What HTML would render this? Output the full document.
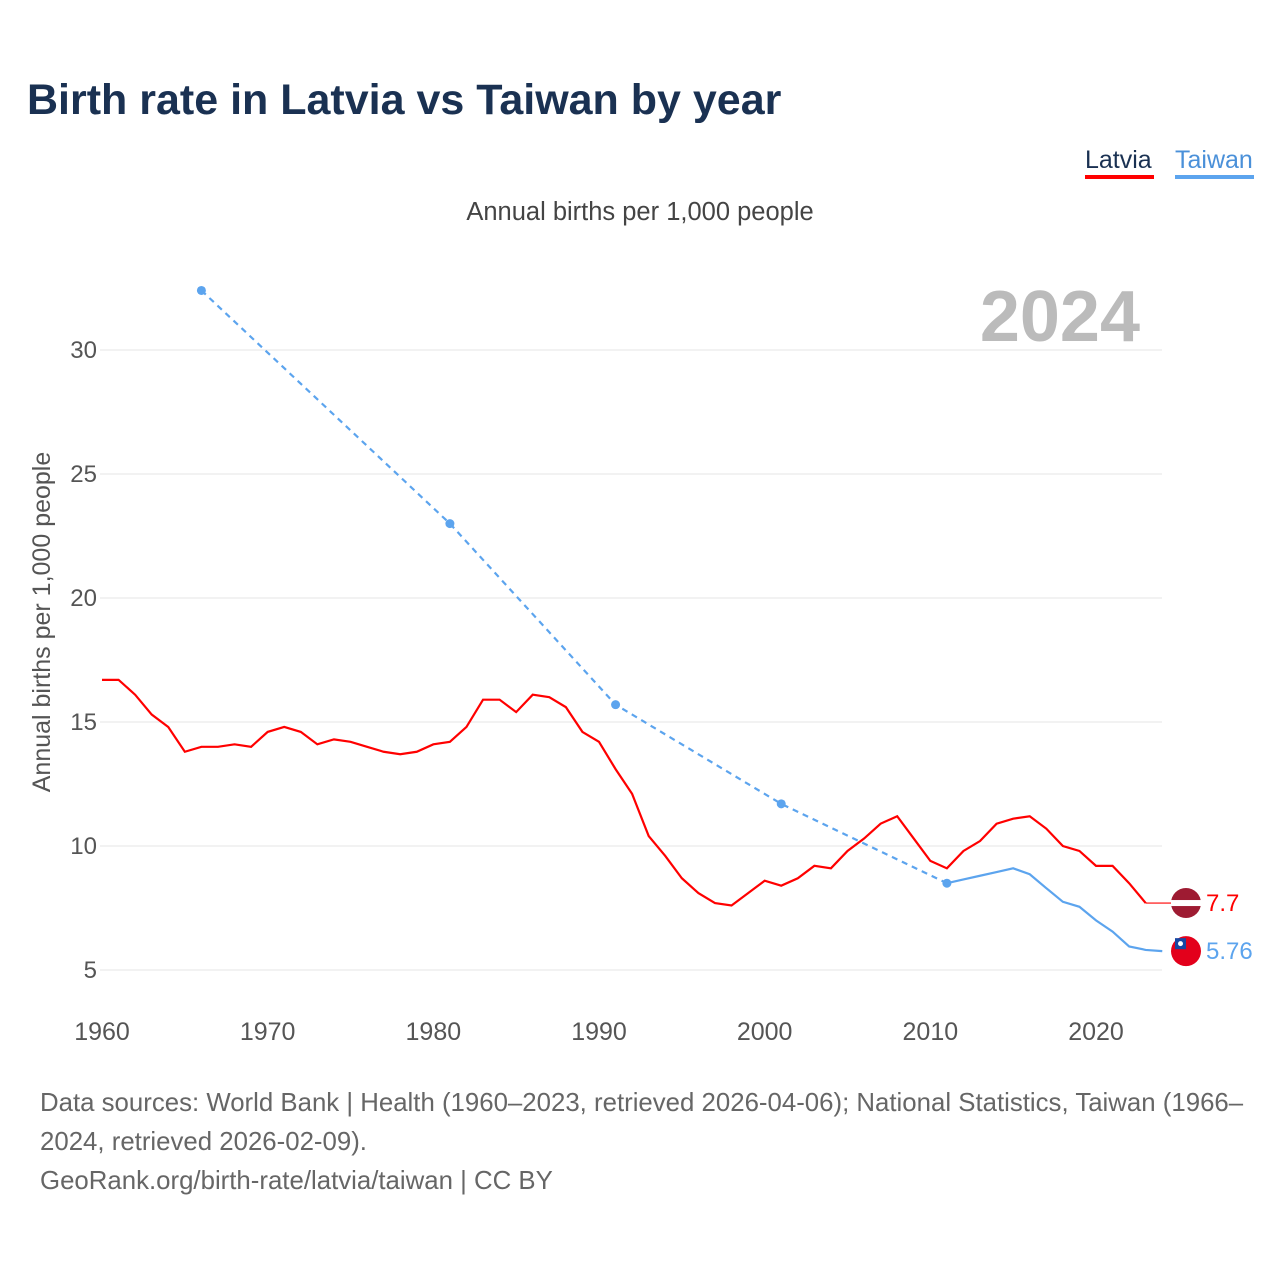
<!DOCTYPE html>
<html><head><meta charset="utf-8"><style>
body{margin:0;background:#fff;font-family:"Liberation Sans",sans-serif;}
svg text{font-family:"Liberation Sans",sans-serif;}
</style></head><body>
<svg id="chart" width="1280" height="1280" xmlns="http://www.w3.org/2000/svg">
<rect width="1280" height="1280" fill="#fff"/>
<text x="27" y="114" font-size="43" font-weight="bold" fill="#1a3152">Birth rate in Latvia vs Taiwan by year</text>
<g>
<text x="1085" y="168" font-size="25" fill="#1a3152">Latvia</text>
<rect x="1085" y="175" width="69" height="4" fill="#ff0000"/>
<text x="1175" y="168" font-size="25" fill="#4a90d9">Taiwan</text>
<rect x="1175" y="175" width="79" height="4" fill="#5ca4ee"/>
</g>
<text x="640" y="220" font-size="25.5" fill="#444" text-anchor="middle">Annual births per 1,000 people</text>
<text x="1140" y="341" font-size="72" font-weight="bold" fill="#bbb" text-anchor="end">2024</text>
<text transform="translate(50,622) rotate(-90)" font-size="25" fill="#555" text-anchor="middle">Annual births per 1,000 people</text>
<g id="grid"></g><g id="marks"></g>
<text x="40" y="1111" font-size="25.8" fill="#666">Data sources: World Bank | Health (1960–2023, retrieved 2026-04-06); National Statistics, Taiwan (1966–</text>
<text x="40" y="1150" font-size="25.8" fill="#666">2024, retrieved 2026-02-09).</text>
<text x="40" y="1189" font-size="25.8" fill="#666">GeoRank.org/birth-rate/latvia/taiwan | CC BY</text>
</svg>
<script>
const yTicks=[5,10,15,20,25,30];
const xTicks=[1960,1970,1980,1990,2000,2010,2020];
const latviaYears=[];for(let y=1960;y<=2023;y++)latviaYears.push(y);
const latviaValues=[16.7,16.7,16.1,15.3,14.8,13.8,14.0,14.0,14.1,14.0,14.6,14.8,14.6,14.1,14.3,14.2,14.0,13.8,13.7,13.8,14.1,14.2,14.8,15.9,15.9,15.4,16.1,16.0,15.6,14.6,14.2,13.1,12.1,10.4,9.6,8.7,8.1,7.7,7.6,8.1,8.6,8.4,8.7,9.2,9.1,9.8,10.3,10.9,11.2,10.3,9.4,9.1,9.8,10.2,10.9,11.1,11.2,10.7,10.0,9.8,9.2,9.2,8.5,7.7];
const taiwanSparseYears=[1966,1981,1991,2001,2011];
const taiwanSparseValues=[32.4,23.0,15.7,11.7,8.5];
const taiwanYears=[2011,2012,2013,2014,2015,2016,2017,2018,2019,2020,2021,2022,2023,2024];
const taiwanValues=[8.5,8.65,8.8,8.95,9.1,8.86,8.3,7.75,7.55,7.0,6.55,5.95,5.81,5.76];
const latviaLast=7.7, taiwanLast=5.76;
const X=y=>102+(y-1960)*994/60;
const Y=v=>970-(v-5)*24.8;
const NS="http://www.w3.org/2000/svg";
const grid=document.getElementById('grid'),marks=document.getElementById('marks');
function mk(t,a,p){const e=document.createElementNS(NS,t);for(const k in a)e.setAttribute(k,a[k]);p.appendChild(e);return e;}
yTicks.forEach(v=>{
 const l=mk('line',{x1:100,x2:1162,y1:Y(v),y2:Y(v),stroke:'#e6e6e6','stroke-width':1},grid);
 
 
 const t=mk('text',{x:97,y:Y(v)+8,'font-size':24,fill:'#555','text-anchor':'end'},grid);t.textContent=v;
 
 
});
xTicks.forEach(v=>{
 const t=mk('text',{x:X(v),y:1040,'font-size':25,fill:'#555','text-anchor':'middle'},grid);t.textContent=v;
 
 
});
const pts=(xs,vs)=>xs.map((y,i)=>X(y)+','+Y(vs[i])).join(' ');
let p=mk('polyline',{points:pts(taiwanSparseYears,taiwanSparseValues),fill:'none',stroke:'#5ca4ee','stroke-width':2.2,'stroke-dasharray':'6,5'},marks);


taiwanSparseYears.forEach((y,i)=>{const c=mk('circle',{cx:X(y),cy:Y(taiwanSparseValues[i]),r:4.5,fill:'#5ca4ee'},marks);
 
 });
p=mk('polyline',{points:pts(taiwanYears,taiwanValues),fill:'none',stroke:'#5ca4ee','stroke-width':2.2},marks);


p=mk('polyline',{points:pts(latviaYears,latviaValues),fill:'none',stroke:'#ff0000','stroke-width':2.2},marks);


p=mk('line',{x1:X(2023),x2:1172,y1:Y(latviaLast),y2:Y(latviaLast),stroke:'#ff0000','stroke-width':1.2},marks);


const fx=1186;
let g=mk('g',{},marks);


mk('circle',{cx:fx,cy:Y(latviaLast),r:15,fill:'#9e1b32'},g);
mk('rect',{x:fx-15,y:Y(latviaLast)-3,width:30,height:6,fill:'#fff'},g);
let t=mk('text',{x:1206,y:Y(latviaLast)+8,'font-size':24,fill:'#ff0000'},marks);t.textContent=latviaLast;


g=mk('g',{},marks);


mk('circle',{cx:fx,cy:Y(taiwanLast),r:15,fill:'#e3001b'},g);
mk('rect',{x:fx-11,y:Y(taiwanLast)-13,width:11,height:11,fill:'#1746a2'},g);
mk('circle',{cx:fx-5.5,cy:Y(taiwanLast)-7.5,r:2.5,fill:'#fff'},g);
t=mk('text',{x:1206,y:Y(taiwanLast)+8,'font-size':24,fill:'#5ca4ee'},marks);t.textContent=taiwanLast;


</script>
</body></html>
